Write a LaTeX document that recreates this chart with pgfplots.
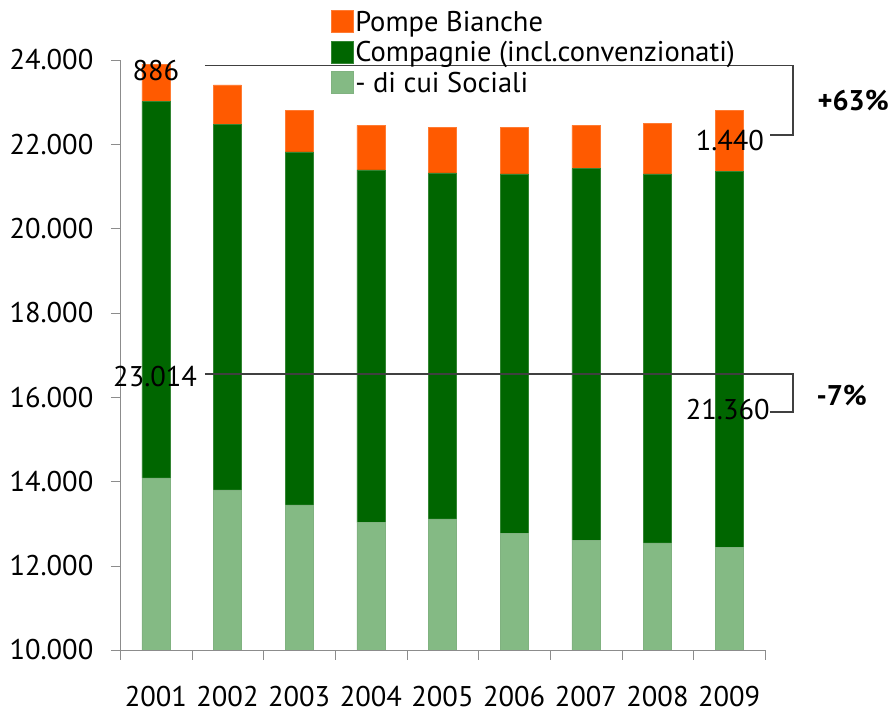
\documentclass[border=0pt]{standalone}
\usepackage{pgfplots}
\pgfplotsset{compat=1.18}
\usepackage{pgfplotstable}
\usepackage{fontspec}
\setmainfont{PT Sans}
\definecolor{orangeP}{RGB}{255,90,0}
\definecolor{greenC}{RGB}{0,102,0}
\definecolor{greenS}{RGB}{132,186,132}
\pgfplotstableread{
x soc comp pompe
0 14082 23014 886
1 13797 22475 933
2 13441 21818 989
3 13021 21390 1060
4 13110 21320 1075
5 12769 21296 1099
6 12610 21421 1029
7 12539 21296 1194
8 12428 21360 1440
}\data
\newcommand\fs{\fontsize{28.5}{32}\selectfont}
\begin{document}
\fs
\begin{tikzpicture}
\path[use as bounding box] (-120pt,-65pt) rectangle (775pt,650pt);
\begin{axis}[
  scale only axis, width=645pt, height=590pt, at={(0pt,0pt)}, anchor=south west,
  clip mode=individual,
  ymin=10000, ymax=24000, ytick={10000,12000,...,24000},
  scaled y ticks=false,
  xmin=-0.5, xmax=8.5, xtick={0,...,8}, xticklabels={2001,2002,2003,2004,2005,2006,2007,2008,2009},
  minor xtick={-0.5,0.5,...,8.5},
  axis x line*=bottom, axis y line*=left, axis line style={black!45, -},
  tick align=outside, major tick length=9pt, minor tick length=10pt,
  major x tick style={draw=none}, minor x tick style={black!45},
  ytick style={black!45},
  yticklabel={\pgfmathprintnumber[fixed,precision=0,1000 sep={.},min exponent for 1000 sep=3,assume math mode=true]{\tick}},
  ticklabel style={font=\fs},
  yticklabel style={xshift=-8pt},
  xticklabel style={anchor=north, inner sep=0pt, yshift=-27pt},
  ybar stacked, bar width=28pt,
  every axis plot post/.append style={legend image code/.code={\draw[##1] (0pt,-9pt) rectangle (22pt,13pt);}},
  reverse legend,
  legend style={draw=none, fill=none, at={(0.322,1.090)}, anchor=north west,
    font=\fs, cells={anchor=west}, row sep=2pt,
    /tikz/every even column/.append style={column sep=2pt}},
  after end axis/.code={
    \draw[black!75, line width=1.2pt] (axis cs:0.686,23860) -- (axis cs:8.89,23860) -- (axis cs:8.89,22220) -- (axis cs:8.57,22220);
    \draw[black!75, line width=1.2pt] (axis cs:0.686,16550) -- (axis cs:8.89,16550) -- (axis cs:8.89,15648) -- (axis cs:8.57,15648);
    \node at (axis cs:0,23740) {886};
    \node at (axis cs:8.01,22080) {1.440};
    \node at (axis cs:-0.01,16500) {23.014};
    \node at (axis cs:7.98,15695) {21.360};
    \node[font=\fs\bfseries] at (axis cs:9.73,23030) {+63\%};
    \node[font=\fs\bfseries] at (axis cs:9.57,16050) {-7\%};
  },
]
\addplot[fill=greenS, draw=greenC!50] table[x=x,y=soc]{\data};
\addplot[fill=greenC, draw=greenC!80] table[x=x,y expr=\thisrow{comp}-\thisrow{soc}]{\data};
\addplot[fill=orangeP, draw=orangeP!80] table[x=x,y=pompe]{\data};
\legend{- di cui Sociali, Compagnie (incl.convenzionati), Pompe Bianche}
\end{axis}
\end{tikzpicture}
\end{document}
